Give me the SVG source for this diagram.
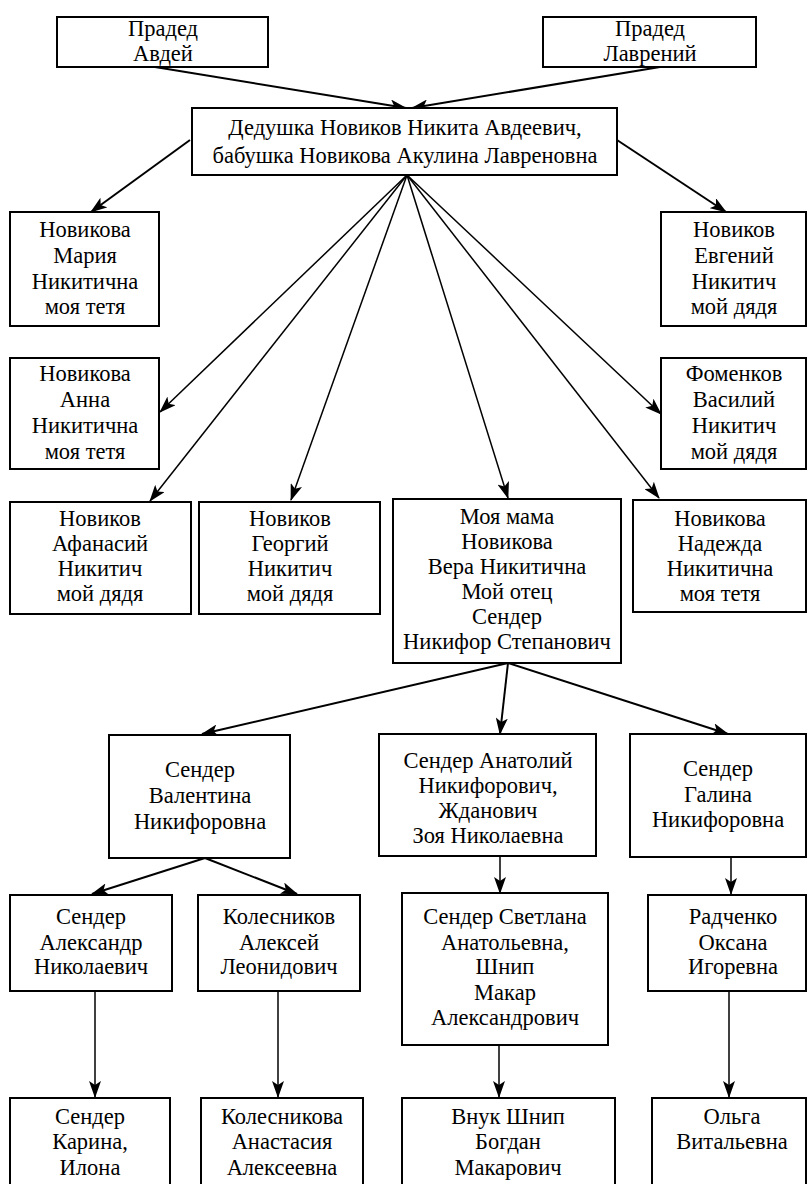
<svg xmlns="http://www.w3.org/2000/svg" width="808" height="1184" viewBox="0 0 808 1184" font-family="'Liberation Serif', 'DejaVu Serif', serif">
<style>
.box{fill:#fff;stroke:#000;stroke-width:2}
text{font-family:'Liberation Serif','DejaVu Serif',serif;font-size:22.5px;fill:#000;text-anchor:middle}
.c line{stroke:#000;stroke-width:1.5;marker-end:url(#ah)}
.c .t{stroke-width:2}
</style>
<defs>
<marker id="ah" markerUnits="userSpaceOnUse" markerWidth="17" markerHeight="12" viewBox="0 0 17 12" refX="16" refY="6" orient="auto">
<path d="M0,0 L17,6 L0,12 L4,6 z" fill="#000"/>
</marker>
</defs>
<g class="c" id="connectors">
<line class="t" x1="155" y1="67" x2="406" y2="108"/>
<line class="t" x1="660" y1="67" x2="412" y2="108"/>
<line class="t" x1="190" y1="140" x2="91" y2="212"/>
<line class="t" x1="617" y1="140" x2="726" y2="212"/>
<line x1="407" y1="175" x2="160" y2="412"/>
<line x1="407" y1="175" x2="150" y2="501"/>
<line x1="407" y1="175" x2="291" y2="500"/>
<line x1="407" y1="175" x2="508" y2="498"/>
<line x1="407" y1="175" x2="659" y2="498"/>
<line x1="407" y1="175" x2="661" y2="414"/>
<line class="t" x1="508" y1="663" x2="202" y2="734"/>
<line class="t" x1="508" y1="663" x2="500" y2="734"/>
<line class="t" x1="508" y1="663" x2="728" y2="734"/>
<line class="t" x1="205" y1="858" x2="92" y2="894"/>
<line class="t" x1="205" y1="858" x2="297" y2="894"/>
<line x1="500" y1="856" x2="500" y2="893"/>
<line x1="731" y1="857" x2="731" y2="894"/>
<line x1="95" y1="991" x2="95" y2="1097"/>
<line x1="278" y1="991" x2="278" y2="1097"/>
<line x1="499" y1="1045" x2="499" y2="1097"/>
<line x1="729" y1="991" x2="729" y2="1097"/>
</g>
<g id="n-avdey"><rect class="box" x="57" y="17" width="211" height="50"/><text x="163" y="36">Прадед</text><text x="163" y="61">Авдей</text></g>
<g id="n-lavreniy"><rect class="box" x="543" y="17" width="213" height="50"/><text x="650" y="36">Прадед</text><text x="650" y="61">Лаврений</text></g>
<g id="n-grand"><rect class="box" x="192" y="108" width="425" height="67"/><text x="405" y="135">Дедушка Новиков Никита Авдеевич,</text><text x="405" y="163">бабушка Новикова Акулина Лавреновна</text></g>
<g id="n-maria"><rect class="box" x="10" y="212" width="149" height="114"/><text x="85" y="237">Новикова</text><text x="85" y="263">Мария</text><text x="85" y="289">Никитична</text><text x="85" y="314">моя тетя</text></g>
<g id="n-evgeniy"><rect class="box" x="661" y="212" width="145" height="114"/><text x="734" y="237">Новиков</text><text x="734" y="263">Евгений</text><text x="734" y="289">Никитич</text><text x="734" y="314">мой дядя</text></g>
<g id="n-anna"><rect class="box" x="10" y="358" width="149" height="111"/><text x="85" y="381">Новикова</text><text x="85" y="407">Анна</text><text x="85" y="433">Никитична</text><text x="85" y="459">моя тетя</text></g>
<g id="n-vasiliy"><rect class="box" x="661" y="358" width="145" height="111"/><text x="734" y="381">Фоменков</text><text x="734" y="407">Василий</text><text x="734" y="433">Никитич</text><text x="734" y="459">мой дядя</text></g>
<g id="n-afanasiy"><rect class="box" x="10" y="502" width="181" height="112"/><text x="100" y="526">Новиков</text><text x="100" y="551">Афанасий</text><text x="100" y="576">Никитич</text><text x="100" y="601">мой дядя</text></g>
<g id="n-georgiy"><rect class="box" x="199" y="502" width="181" height="112"/><text x="290" y="526">Новиков</text><text x="290" y="551">Георгий</text><text x="290" y="576">Никитич</text><text x="290" y="601">мой дядя</text></g>
<g id="n-mama"><rect class="box" x="393" y="499" width="228" height="164"/><text x="507" y="524">Моя мама</text><text x="507" y="549">Новикова</text><text x="507" y="574">Вера Никитична</text><text x="507" y="599">Мой отец</text><text x="507" y="624">Сендер</text><text x="507" y="649">Никифор Степанович</text></g>
<g id="n-nadezhda"><rect class="box" x="633" y="500" width="173" height="112"/><text x="720" y="526">Новикова</text><text x="720" y="551">Надежда</text><text x="720" y="576">Никитична</text><text x="720" y="601">моя тетя</text></g>
<g id="n-valentina"><rect class="box" x="109" y="735" width="181" height="123"/><text x="200" y="777">Сендер</text><text x="200" y="803">Валентина</text><text x="200" y="829">Никифоровна</text></g>
<g id="n-anatoliy"><rect class="box" x="379" y="734" width="217" height="122"/><text x="488" y="768">Сендер Анатолий</text><text x="488" y="793">Никифорович,</text><text x="488" y="818">Жданович</text><text x="488" y="843">Зоя Николаевна</text></g>
<g id="n-galina"><rect class="box" x="630" y="734" width="176" height="123"/><text x="718" y="776">Сендер</text><text x="718" y="802">Галина</text><text x="718" y="827">Никифоровна</text></g>
<g id="n-aleksandr"><rect class="box" x="10" y="895" width="162" height="96"/><text x="91" y="924">Сендер</text><text x="91" y="950">Александр</text><text x="91" y="974">Николаевич</text></g>
<g id="n-aleksey"><rect class="box" x="198" y="895" width="162" height="96"/><text x="279" y="924">Колесников</text><text x="279" y="950">Алексей</text><text x="279" y="974">Леонидович</text></g>
<g id="n-svetlana"><rect class="box" x="402" y="893" width="206" height="152"/><text x="505" y="924">Сендер Светлана</text><text x="505" y="950">Анатольевна,</text><text x="505" y="974">Шнип</text><text x="505" y="1000">Макар</text><text x="505" y="1025">Александрович</text></g>
<g id="n-oksana"><rect class="box" x="648" y="895" width="158" height="96"/><text x="733" y="924">Радченко</text><text x="733" y="950">Оксана</text><text x="733" y="974">Игоревна</text></g>
<g id="n-karina"><rect class="box" x="10" y="1098" width="160" height="100"/><text x="90" y="1124">Сендер</text><text x="90" y="1149">Карина,</text><text x="90" y="1175">Илона</text></g>
<g id="n-anastasia"><rect class="box" x="201" y="1098" width="162" height="100"/><text x="282" y="1124">Колесникова</text><text x="282" y="1149">Анастасия</text><text x="282" y="1175">Алексеевна</text></g>
<g id="n-bogdan"><rect class="box" x="402" y="1098" width="213" height="100"/><text x="508" y="1124">Внук Шнип</text><text x="508" y="1149">Богдан</text><text x="508" y="1175">Макарович</text></g>
<g id="n-olga"><rect class="box" x="652" y="1098" width="154" height="100"/><text x="732" y="1124">Ольга</text><text x="732" y="1149">Витальевна</text></g>
</svg>
